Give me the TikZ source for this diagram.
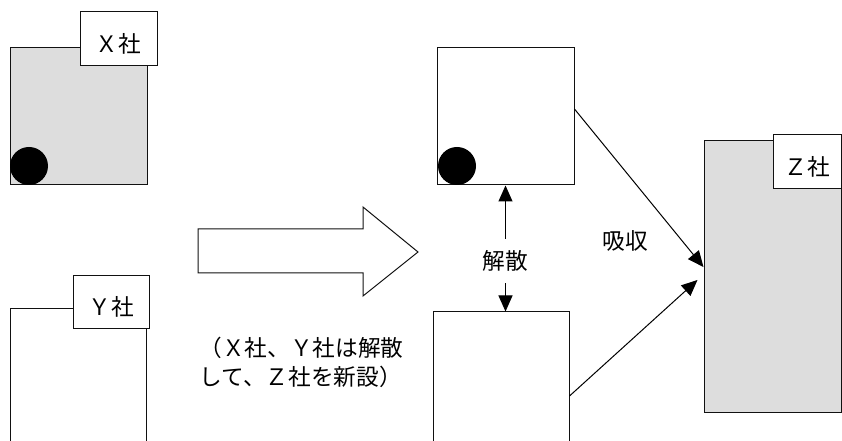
\documentclass[tikz,border=0pt]{standalone}
\usepackage{fontspec}
\setmainfont{Noto Sans CJK JP}
\usetikzlibrary{positioning}
\usetikzlibrary{arrows.meta}
\definecolor{firm-gray}{HTML}{DDDDDD}
\definecolor{firm-line}{HTML}{111111}

\begin{document}
\begin{tikzpicture}[
    x=0.75pt, y=-0.75pt,           % one unit is one pixel of the reference
    font=\fontsize{17}{21.75}\selectfont,
    >={Triangle[length=12pt,width=10.5pt]},
    line width=0.75pt
  ]

  % Global Style Definitions
  \tikzset{
    firm/.style={draw=firm-line, fill=firm-gray, inner sep=0pt},
    gone/.style={firm, fill=white},
    tag/.style={draw=firm-line, fill=white, inner sep=0pt, minimum height=39.75pt,
                text height=30.4pt, text depth=9.4pt},
    dot/.style={circle, fill=black, inner sep=0pt, minimum size=28.5pt}
  }

  \useasboundingbox (0,0) rectangle (842,441);
  \clip (0,0) rectangle (842,441);

  % Companies before the merger
  \node (xfirm) [firm, minimum width=102.75pt, minimum height=102.75pt] at (78.5,116.5) {};
  \node (xdot) [dot] at (29,166) {};
  \node (xtag) [tag, minimum width=57.75pt] at (118.5,38.5) {Ｘ社};

  \node (yfirm) [gone, minimum width=102pt, minimum height=128.25pt] at (78,394.5) {};
  \node (ytag) [tag, minimum width=57pt] at (111,302) {Ｙ社};

  % Big transition arrow
  \draw[firm-line] (198,229) -- (363,229) -- (363,207) -- (418,252)
    -- (363,296) -- (363,273) -- (198,273) -- cycle;

  \node (note) [anchor=west, align=left, inner sep=0pt] at (199,362)
    {（Ｘ社、Ｙ社は解散\\して、Ｚ社を新設）};

  % Companies after the merger
  \node (xafter) [gone, minimum width=102.75pt, minimum height=102.75pt] at (505.5,116.5) {};
  \node (adot) [dot] at (457,166) {};

  \node (yafter) [gone, minimum width=102pt, minimum height=126pt] at (501,396) {};

  \node (zfirm) [firm, minimum width=102.75pt, minimum height=203.25pt] at (772.5,276.5) {};
  \node (ztag) [tag, minimum width=51pt] at (807,161.5) {Ｚ社};

  % Dissolution between the two old firms
  \draw[<->] (xafter.south) -- node[pos=0.6, fill=white, inner xsep=0pt, inner ysep=8.5pt] {解散}
    (xafter.south |- yafter.north);

  % Absorption into the new firm
  \draw[->] ([yshift=5.6pt]xafter.east) -- ([yshift=7.1pt]zfirm.west);
  \draw[->] (yafter.east) -- ([xshift=-4.5pt, yshift=-2.6pt]zfirm.west);
  \node (absorb) at (625,241) {吸収};

\end{tikzpicture}
\end{document}
